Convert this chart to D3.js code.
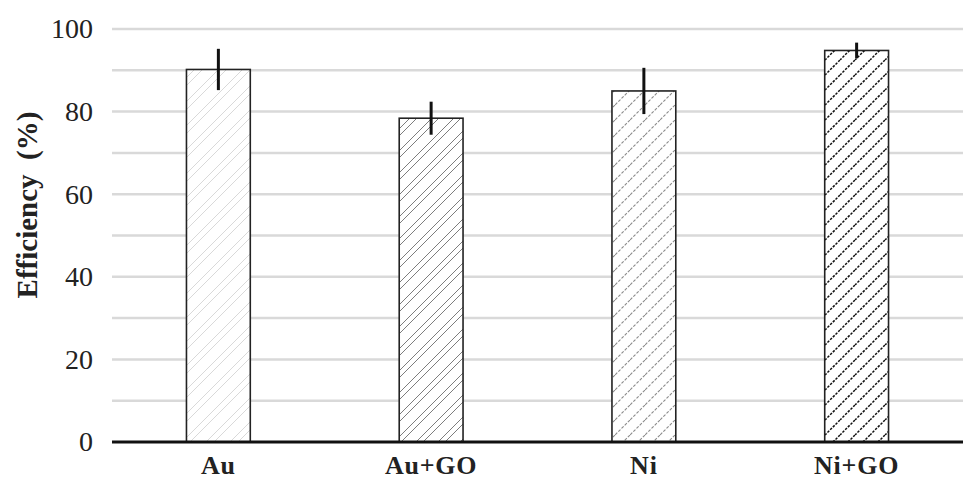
<!DOCTYPE html>
<html>
<head>
<meta charset="utf-8">
<script src="https://cdn.jsdelivr.net/npm/d3@7"></script>
<style>
  body { margin: 0; background: #fff; }
  svg { display: block; }
</style>
</head>
<body>
<script>
const categories = ["Au", "Au+GO", "Ni", "Ni+GO"];
const values = [90.2, 78.4, 85.0, 94.8];
const errors = [5.0, 4.0, 5.6, 1.9];
const yTicks = [0, 20, 40, 60, 80, 100];
const gridValues = [10, 20, 30, 40, 50, 60, 70, 80, 90, 100];

const width = 963;
const height = 482;
const margin = { top: 29, right: 0, bottom: 40, left: 112 };

const svg = d3.select("body").append("svg")
  .attr("width", width)
  .attr("height", height);

const x = d3.scaleBand()
  .domain(categories)
  .range([margin.left, width - margin.right])
  .paddingInner(0.7)
  .paddingOuter(0.35);

const y = d3.scaleLinear()
  .domain([0, 100])
  .range([height - margin.bottom, margin.top]);

const serif = "'Liberation Serif', 'DejaVu Serif', serif";

// hatch patterns, one per bar
const patterns = [
  { id: "p0", size: 24, offsets: [0, 8], color: "#cfcfcf", width: 0.8, dash: null },
  { id: "p1", size: 22, offsets: [0, 7], color: "#6e6e6e", width: 0.9, dash: null },
  { id: "p2", size: 15, offsets: [0], color: "#8a8a8a", width: 1.1, dash: "3,1.5" },
  { id: "p3", size: 15, offsets: [0], color: "#111", width: 1.5, dash: "2.5,1.3" }
];
const defs = svg.append("defs");
patterns.forEach(function (p) {
  const s = p.size;
  const pat = defs.append("pattern")
    .attr("id", p.id)
    .attr("patternUnits", "userSpaceOnUse")
    .attr("width", s)
    .attr("height", s);
  pat.append("rect").attr("width", s).attr("height", s).attr("fill", "#fff");
  p.offsets.forEach(function (c) {
    [c, c + s, c + 2 * s].forEach(function (k) {
      pat.append("line")
        .attr("x1", k).attr("y1", 0).attr("x2", k - s).attr("y2", s)
        .attr("stroke", p.color)
        .attr("stroke-width", p.width)
        .attr("stroke-dasharray", p.dash);
    });
  });
});

// gridlines
svg.append("g")
  .selectAll("line")
  .data(gridValues)
  .enter()
  .append("line")
  .attr("x1", margin.left)
  .attr("x2", width - margin.right)
  .attr("y1", d => y(d))
  .attr("y2", d => y(d))
  .attr("stroke", "#d9d9d9")
  .attr("stroke-width", 2.5);

// y axis labels
const yAxis = svg.append("g")
  .attr("transform", "translate(" + (margin.left - 19) + ",0)")
  .call(d3.axisLeft(y).tickValues(yTicks).tickSize(0).tickPadding(0));
yAxis.select(".domain").remove();
yAxis.selectAll("text")
  .attr("font-family", serif)
  .attr("font-size", "28px")
  .attr("fill", "#222");

// bars
svg.append("g")
  .selectAll("rect")
  .data(values)
  .enter()
  .append("rect")
  .attr("x", (d, i) => x(categories[i]))
  .attr("y", d => y(d))
  .attr("width", x.bandwidth())
  .attr("height", d => y(0) - y(d))
  .attr("fill", (d, i) => "url(#p" + i + ")")
  .attr("stroke", "#222")
  .attr("stroke-width", 1.6);

// baseline
svg.append("line")
  .attr("x1", margin.left)
  .attr("x2", width - margin.right)
  .attr("y1", y(0))
  .attr("y2", y(0))
  .attr("stroke", "#111")
  .attr("stroke-width", 3);

// error bars
svg.append("g")
  .selectAll("line")
  .data(values)
  .enter()
  .append("line")
  .attr("x1", (d, i) => x(categories[i]) + x.bandwidth() / 2)
  .attr("x2", (d, i) => x(categories[i]) + x.bandwidth() / 2)
  .attr("y1", (d, i) => y(d + errors[i]))
  .attr("y2", (d, i) => y(d - errors[i]))
  .attr("stroke", "#111")
  .attr("stroke-width", 3);

// x labels
const xAxis = svg.append("g")
  .attr("transform", "translate(0," + y(0) + ")")
  .call(d3.axisBottom(x).tickSize(0).tickPadding(14));
xAxis.select(".domain").remove();
xAxis.selectAll("text")
  .attr("font-family", serif)
  .attr("font-size", "26px")
  .attr("font-weight", "bold")
  .attr("fill", "#222")
  .attr("letter-spacing", "0.8px");

// y title
svg.append("text")
  .attr("transform", "translate(37,205) rotate(-90)")
  .attr("text-anchor", "middle")
  .attr("font-family", serif)
  .attr("font-size", "29px")
  .attr("font-weight", "bold")
  .attr("fill", "#222")
  .attr("xml:space", "preserve")
  .text("Efficiency  (%)");
</script>
</body>
</html>
